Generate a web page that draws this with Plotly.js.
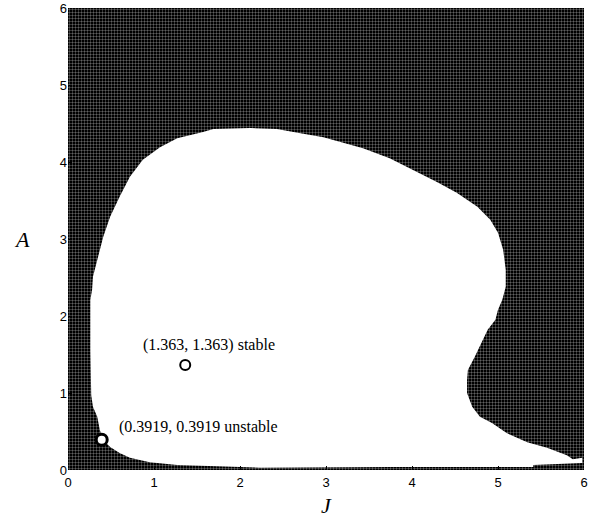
<!DOCTYPE html>
<html>
<head>
<meta charset="utf-8">
<script src="https://cdn.plot.ly/plotly-3.0.1.min.js"></script>
<style>html,body{margin:0;padding:0;background:#fff;}#chart{width:589px;height:520px;}</style>
</head>
<body>
<div id="chart"></div>
<script>
// Domain of the scan
const domainJ = [0, 6, 6, 0, 0];
const domainA = [0, 0, 6, 6, 0];

// Boundary of the stable (white) region
const stableJ = [2.23, 1.27, 0.95, 0.72, 0.60, 0.49, 0.41, 0.37, 0.34, 0.29, 0.27, 0.26, 0.26, 0.28, 0.29, 0.34, 0.41, 0.49, 0.60, 0.72, 0.87, 1.07, 1.27, 1.57, 1.69, 2.12, 2.43, 2.67, 2.97, 3.20, 3.43, 3.74, 4.06, 4.29, 4.52, 4.76, 4.91, 5.00, 5.06, 5.09, 5.09, 5.05, 5.00, 4.97, 4.88, 4.81, 4.73, 4.65, 4.64, 4.64, 4.70, 4.79, 4.93, 5.10, 5.34, 5.57, 5.80, 5.87, 5.98, 5.98, 5.41, 5.41, 3.74, 2.23];
const stableA = [0.03, 0.065, 0.10, 0.16, 0.22, 0.30, 0.39, 0.52, 0.69, 0.82, 0.97, 1.56, 2.21, 2.34, 2.51, 2.73, 3.03, 3.29, 3.55, 3.81, 4.03, 4.19, 4.31, 4.39, 4.43, 4.44, 4.43, 4.38, 4.32, 4.25, 4.18, 4.05, 3.87, 3.74, 3.60, 3.42, 3.25, 3.08, 2.86, 2.60, 2.38, 2.21, 2.08, 1.95, 1.82, 1.65, 1.47, 1.30, 1.17, 1.00, 0.82, 0.69, 0.61, 0.48, 0.36, 0.29, 0.19, 0.14, 0.16, 0.09, 0.065, 0.04, 0.04, 0.03];

// Equilibria
const eqJ = [1.363, 0.3919];
const eqA = [1.363, 0.3919];
const eqLabels = ["(1.363, 1.363) stable", "(0.3919, 0.3919 unstable"];
const labelJ = [1.64, 1.52];
const labelA = [1.62, 0.56];

const tickVals = [0, 1, 2, 3, 4, 5, 6];
const tickText = ["0", "1", "2", "3", "4", "5", "6"];

const traces = [
  {
    x: domainJ, y: domainA, type: "scatter", mode: "lines",
    fill: "toself", fillcolor: "#000000",
    fillpattern: {shape: "+", fgcolor: "#ffffff", bgcolor: "#000000", size: 3, solidity: 0.14},
    line: {width: 0}, hoverinfo: "skip", showlegend: false
  },
  {
    x: stableJ, y: stableA, type: "scatter", mode: "lines",
    fill: "toself", fillcolor: "#ffffff",
    line: {width: 0, color: "#ffffff"}, hoverinfo: "skip", showlegend: false
  },
  {
    x: [eqJ[0]], y: [eqA[0]], type: "scatter", mode: "markers",
    marker: {symbol: "circle", size: 10, color: "#ffffff", line: {color: "#000000", width: 2}},
    showlegend: false
  },
  {
    x: [eqJ[1]], y: [eqA[1]], type: "scatter", mode: "markers",
    marker: {symbol: "circle", size: 11, color: "#ffffff", line: {color: "#000000", width: 3}},
    showlegend: false
  }
];

const annotations = eqLabels.map((t, i) => ({
  x: labelJ[i], y: labelA[i], xref: "x", yref: "y", text: t, showarrow: false,
  font: {family: "Liberation Serif, Times New Roman, serif", size: 16, color: "#000"}
}));
annotations.push({
  xref: "paper", yref: "paper", x: -0.09, y: 0.5, xanchor: "center", yanchor: "middle",
  text: "<i>A</i>", showarrow: false,
  font: {family: "Liberation Serif, Times New Roman, serif", size: 22, color: "#000"}
});

const layout = {
  width: 589, height: 520,
  margin: {l: 68, r: 5, t: 8, b: 50},
  paper_bgcolor: "#ffffff", plot_bgcolor: "#ffffff",
  showlegend: false,
  xaxis: {
    range: [0, 6], tickvals: tickVals, ticktext: tickText,
    showgrid: false, zeroline: false, showline: false,
    ticks: "inside", ticklen: 4, tickcolor: "#000", ticklabelstandoff: 3,
    tickfont: {family: "Liberation Sans, Arial, sans-serif", size: 13, color: "#000"},
    title: {text: "<i>J</i>", standoff: 8, font: {family: "Liberation Serif, Times New Roman, serif", size: 22, color: "#000"}}
  },
  yaxis: {
    range: [0, 6], tickvals: tickVals, ticktext: tickText,
    showgrid: false, zeroline: false, showline: false,
    ticks: "inside", ticklen: 4, tickcolor: "#000",
    tickfont: {family: "Liberation Sans, Arial, sans-serif", size: 13, color: "#000"}
  },
  annotations: annotations
};

Plotly.newPlot("chart", traces, layout, {displayModeBar: false, staticPlot: true});
</script>
</body>
</html>
